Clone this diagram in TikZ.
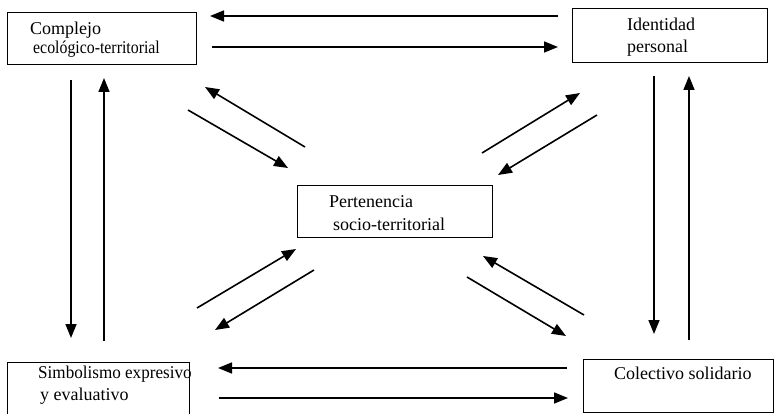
\documentclass[tikz,border=0pt]{standalone}
\usepackage{fontspec}
\setmainfont{Liberation Serif}
\usetikzlibrary{arrows.meta}
\begin{document}
\begin{tikzpicture}[x=1pt,y=-1pt,
  box/.style={draw=black, line width=1.4pt, rectangle, anchor=north west, inner sep=0pt},
  lbl/.style={anchor=base west, inner sep=0pt, font=\fontsize{18}{20}\selectfont},
  arr/.style={line width=1.6pt, -{Triangle[length=14pt,width=11pt]}}]
\useasboundingbox (0,0) rectangle (774,414);
% boxes
\node[box, minimum width=189pt, minimum height=52pt] (ecol) at (7,12) {};
\node[box, minimum width=195pt, minimum height=54pt] (iden) at (572,8) {};
\node[box, minimum width=195pt, minimum height=52pt] (pert) at (297,185) {};
\node[box, minimum width=182pt, minimum height=60pt] (simb) at (7,362) {};
\node[box, minimum width=190pt, minimum height=53pt] (cole) at (583,359) {};
% labels
\node[lbl] (t1) at (30,35) {Complejo};
\node[lbl] (t2) at (33,54) {\scalebox{0.88}[1]{ecológico-territorial}};
\node[lbl] (t3) at (627,31) {Identidad};
\node[lbl] (t4) at (627,53) {personal};
\node[lbl] (t5) at (329,208) {Pertenencia};
\node[lbl] (t6) at (333,231) {socio-territorial};
\node[lbl] (t7) at (38,378) {\scalebox{0.95}[1]{Simbolismo expresivo}};
\node[lbl] (t8) at (40,400) {y evaluativo};
\node[lbl] (t9) at (614,379) {Colectivo solidario};
% arrow end points
\coordinate (h1a) at (558,16); \coordinate (h1b) at (210,16);
\coordinate (h2a) at (212,47); \coordinate (h2b) at (558,47);
\coordinate (h3a) at (567,368); \coordinate (h3b) at (218,368);
\coordinate (h4a) at (219,398); \coordinate (h4b) at (568,398);
\coordinate (v1a) at (71,80); \coordinate (v1b) at (71,338);
\coordinate (v2a) at (104,341); \coordinate (v2b) at (104,78);
\coordinate (v3a) at (654,76); \coordinate (v3b) at (654,334);
\coordinate (v4a) at (689,340); \coordinate (v4b) at (689,76);
\coordinate (d1a) at (305,147); \coordinate (d1b) at (205,87);
\coordinate (d2a) at (188,110); \coordinate (d2b) at (288,168);
\coordinate (d3a) at (482,153); \coordinate (d3b) at (580,93);
\coordinate (d4a) at (597,115); \coordinate (d4b) at (498,175);
\coordinate (d5a) at (197,308); \coordinate (d5b) at (296,249);
\coordinate (d6a) at (314,270); \coordinate (d6b) at (215,330);
\coordinate (d7a) at (584,315); \coordinate (d7b) at (483,256);
\coordinate (d8a) at (467,277); \coordinate (d8b) at (566,336);
% arrows
\foreach \n in {h1,h2,h3,h4,v1,v2,v3,v4,d1,d2,d3,d4,d5,d6,d7,d8}
  \draw[arr] (\n a) -- (\n b);
\end{tikzpicture}
\end{document}
